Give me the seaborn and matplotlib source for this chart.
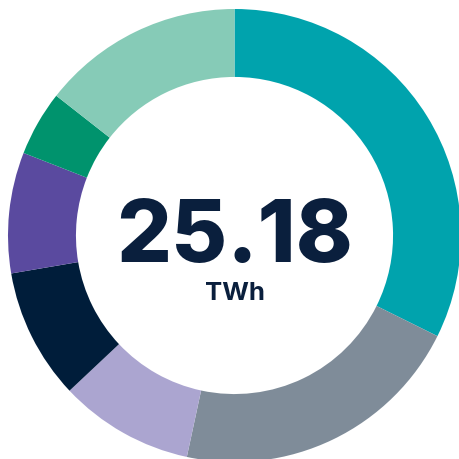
import matplotlib
matplotlib.use("Agg")
import matplotlib.pyplot as plt
import seaborn as sns

# slice values (TWh), clockwise from 12 o'clock
sources = ["A", "B", "C", "D", "E", "F", "G"]
values = [8.14, 5.30, 2.42, 2.35, 2.17, 1.17, 3.63]
colors = ["#00a3ad", "#7f8c99", "#aba5d0", "#001d3a", "#5a4a9f", "#00936d", "#86cbb7"]
total_label = "25.18"
unit_label = "TWh"

sns.set_theme(style="white")
plt.rcParams["font.family"] = ["Inter", "DejaVu Sans"]

R = 226.5  # outer radius in pixels
fig = plt.figure(figsize=(4.6, 4.6), dpi=100)
ax = fig.add_axes([0, 0, 1, 1])
ax.pie(values, colors=colors, startangle=90, counterclock=False, radius=1,
       wedgeprops=dict(width=0.30, linewidth=0))
ax.set_aspect("equal")
ax.set_xlim(-234.5 / R, 225.5 / R)
ax.set_ylim(-223.5 / R, 236.5 / R)
ax.axis("off")

ax.text(0, -25.5 / R, total_label, ha="center", va="baseline", fontsize=62,
        fontweight="heavy", color="#0a1f3d")
ax.text(0, -63.5 / R, unit_label, ha="center", va="baseline", fontsize=18.5,
        fontweight="bold", color="#0a1f3d")

fig.savefig("out.png", dpi=100)
